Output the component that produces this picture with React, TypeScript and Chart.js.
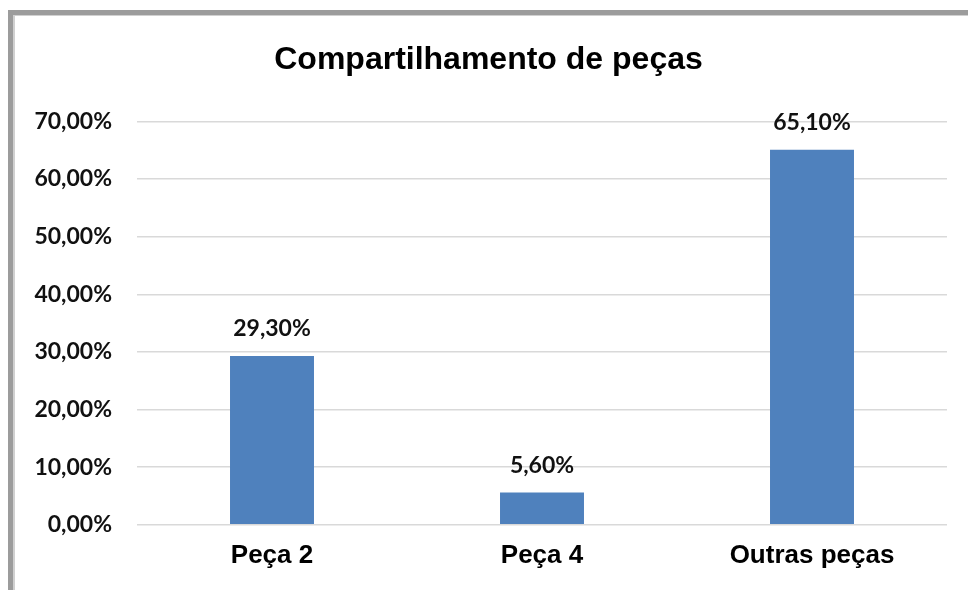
import React, { useEffect, useRef } from "react";
import { Chart, registerables } from "chart.js";

Chart.register(...registerables);

const categories = ["Peça 2", "Peça 4", "Outras peças"];
const values = [29.3, 5.6, 65.1];
const yMin = 0;
const yMax = 70;
const yStep = 10;
const titleText = "Compartilhamento de peças";

const fmt = (v: number) => v.toFixed(2).replace(".", ",") + "%";

const dataLabelPlugin = {
  id: "dataLabels",
  afterDatasetsDraw(chart: any) {
    const ctx = chart.ctx;
    const meta = chart.getDatasetMeta(0);
    ctx.save();
    ctx.font = "bold 23px Lato";
    ctx.fillStyle = "#111";
    ctx.textAlign = "center";
    ctx.textBaseline = "alphabetic";
    meta.data.forEach((bar: any, i: number) => {
      ctx.fillText(fmt(values[i]), bar.x, bar.y - 20);
    });
    ctx.restore();
  },
};

export default function App() {
  const ref = useRef<HTMLCanvasElement>(null);
  useEffect(() => {
    if (!ref.current) return;
    const chart = new Chart(ref.current, {
      type: "bar",
      data: {
        labels: categories,
        datasets: [
          {
            data: values,
            backgroundColor: "#4f81bd",
            borderWidth: 0,
            categoryPercentage: 1,
            barPercentage: 0.311,
          },
        ],
      },
      options: {
        animation: false,
        responsive: false,
        devicePixelRatio: 1,
        layout: { padding: { left: 15, right: 30, top: 0, bottom: 12 } },
        plugins: {
          legend: { display: false },
          tooltip: { enabled: false },
          title: {
            display: true,
            text: titleText,
            color: "#000",
            font: { family: "Liberation Sans", size: 32, weight: "bold" },
            padding: { top: 25, bottom: 42 },
          },
        },
        scales: {
          x: {
            grid: { display: false },
            border: { display: false },
            ticks: {
              color: "#000",
              padding: 7,
              font: { family: "Liberation Sans", size: 26, weight: "bold" },
            },
          },
          y: {
            min: yMin,
            max: yMax,
            afterFit: (scale: any) => {
              scale.width = 107;
            },
            grid: { color: "#d9d9d9", lineWidth: 1.5, drawTicks: false },
            border: { display: false },
            ticks: {
              stepSize: yStep,
              color: "#111",
              padding: 25,
              font: { family: "Lato", size: 23, weight: "bold" },
              callback: (v: any) => fmt(Number(v)),
            },
          },
        },
      },
      plugins: [dataLabelPlugin],
    });
    return () => chart.destroy();
  }, []);

  return (
    <div
      style={{
        position: "fixed",
        left: 0,
        top: 0,
        width: 968,
        height: 590,
        overflow: "hidden",
        background: "#fff",
      }}
    >
      <div
        style={{
          position: "absolute",
          left: 8,
          top: 10,
          width: 980,
          height: 600,
          borderLeft: "5px solid #9c9c9c",
          borderTop: "5px solid #9c9c9c",
          background: "#fff",
        }}
      >
        <div
          style={{
            position: "absolute",
            left: 0,
            top: 0,
            width: 2,
            height: 600,
            background: "#d0d0d0",
          }}
        />
        <div
          style={{
            position: "absolute",
            left: 0,
            top: 0,
            width: 980,
            height: 1,
            background: "#d0d0d0",
          }}
        />
        <canvas
          ref={ref}
          width={962}
          height={574}
          style={{ position: "absolute", left: 2, top: 1, display: "block" }}
        />
      </div>
    </div>
  );
}
